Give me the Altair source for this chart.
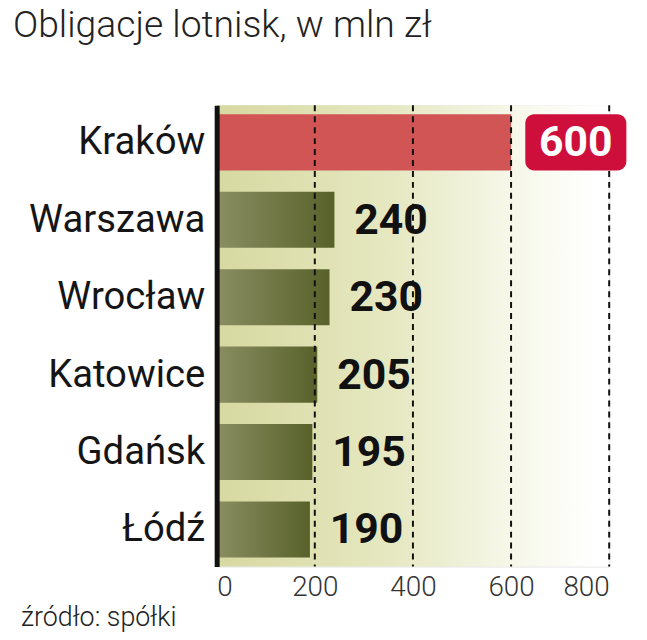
import altair as alt
import pandas as pd

cities = ["Kraków", "Warszawa", "Wrocław", "Katowice", "Gdańsk", "Łódź"]
values = [600, 240, 230, 205, 195, 190]
grid_values = [200, 400, 600, 800]
x_ticks = [0, 200, 400, 600, 800]
title_text = "Obligacje lotnisk, w mln zł"
source_text = "źródło: spółki"
highlight_city = "Kraków"

W, H = 395, 464
NUM_FONT = "Roboto"

df = pd.DataFrame({"city": cities, "value": values})
df["hl"] = df["city"] == highlight_city
grid_df = pd.DataFrame({"g": grid_values})
one = pd.DataFrame({"t": [title_text], "s": [source_text]})

xscale = alt.Scale(domain=[0, 800], nice=False, zero=True)
yscale = alt.Scale(domain=cities, paddingInner=0.276, paddingOuter=0.116)

x_enc = alt.X("value:Q", scale=xscale, axis=alt.Axis(
    values=x_ticks, grid=False, domain=False, ticks=False, title=None,
    labelFont="Roboto", labelFontWeight=300, labelFontSize=28,
    labelColor="#333333", labelPadding=7))
y_enc = alt.Y("city:N", scale=yscale, sort=cities, axis=alt.Axis(
    title=None, ticks=False, grid=False, domain=True, domainColor="#111111",
    domainWidth=5, labelFont="Roboto", labelFontSize=38.5, labelColor="#151515",
    labelPadding=12, zindex=2))

bg = alt.Chart(one).mark_rect(fill=alt.Gradient(
    gradient="linear", x1=0, x2=1, y1=0, y2=0,
    stops=[alt.GradientStop(color="#d6d9a0", offset=0),
           alt.GradientStop(color="#e6e8c2", offset=0.45),
           alt.GradientStop(color="#f6f7e8", offset=0.75),
           alt.GradientStop(color="#ffffff", offset=0.97)])).encode(
    x=alt.value(0), x2=alt.value(W), y=alt.value(0), y2=alt.value(H))

base = alt.Chart(df)

olive = base.transform_filter("!datum.hl").mark_bar(fill=alt.Gradient(
    gradient="linear", x1=0, x2=1, y1=0, y2=0,
    stops=[alt.GradientStop(color="#8a8e62", offset=0),
           alt.GradientStop(color="#58612a", offset=1)])).encode(
    x=x_enc, y=y_enc)

red = base.transform_filter("datum.hl").mark_bar(color="#d25556").encode(
    x=x_enc, y=y_enc)

rules = alt.Chart(grid_df).mark_rule(color="#111111", strokeWidth=2,
                                     strokeDash=[6, 5]).encode(
    x=alt.X("g:Q", scale=xscale), y=alt.value(0), y2=alt.value(H))

labels = base.transform_filter("!datum.hl").mark_text(
    align="left", baseline="middle", dx=20, dy=1,
    font=NUM_FONT, fontWeight="bold", fontSize=43, color="#111111").encode(
    x="value:Q", y=alt.Y("city:N", sort=cities), text="value:Q")

box = base.transform_filter("datum.hl").mark_bar(
    color="#cf0f3b", cornerRadius=9).encode(
    x=alt.datum(629), x2=alt.datum(835), y=alt.Y("city:N", sort=cities))

box_text = base.transform_filter("datum.hl").mark_text(
    align="center", baseline="middle", dy=1,
    font=NUM_FONT, fontWeight="bold", fontSize=43, color="white").encode(
    x=alt.datum(732), y=alt.Y("city:N", sort=cities), text="value:Q")

title = alt.Chart(one).mark_text(
    align="left", baseline="alphabetic", font="Roboto", fontWeight=300,
    fontSize=37.5, color="#222222").encode(
    x=alt.value(-205), y=alt.value(-69), text="t:N")

source = alt.Chart(one).mark_text(
    align="left", baseline="alphabetic", font="Roboto", fontWeight=300,
    fontSize=27, color="#222222").encode(
    x=alt.value(-197), y=alt.value(524), text="s:N")

chart = alt.layer(bg, olive, red, rules, labels, box, box_text, title, source).properties(
    width=W, height=H,
    autosize=alt.AutoSizeParams(type="none"),
    padding={"left": 210, "top": 96, "right": 30, "bottom": 64},
).configure_view(stroke=None).configure(background="white")

chart.save("out.html", embed_options={"renderer": "svg", "actions": False})
